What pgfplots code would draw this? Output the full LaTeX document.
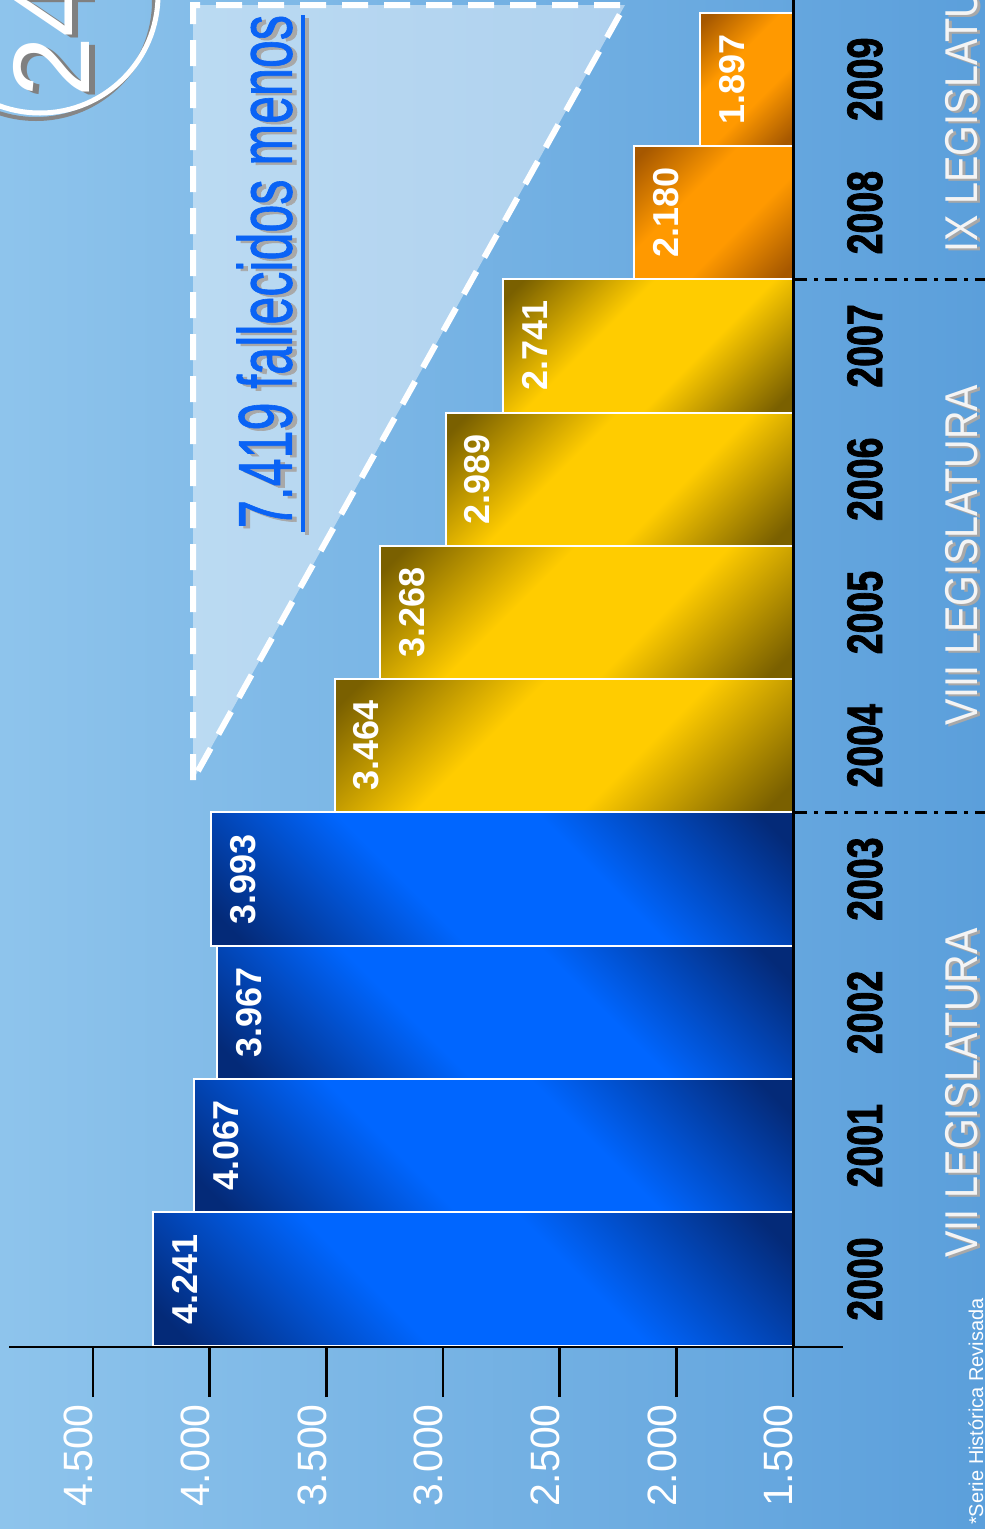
\documentclass[border=0pt]{standalone}
\usepackage{pgfplots}
\pgfplotsset{compat=1.18}
\usepackage{fontspec}
\usepackage{graphicx}
\setmainfont{Liberation Sans}
\newfontfamily\yearfont{Liberation Sans Bold}[FakeStretch=0.75, FakeBold=1.5]
\newfontfamily\legfont{Liberation Sans}[FakeStretch=0.86]
\newfontfamily\titlefont{Liberation Sans}[FakeBold=1.2]
\definecolor{bgL}{HTML}{8EC4EC}
\definecolor{bgR}{HTML}{5B9FDB}
\definecolor{blueD}{HTML}{042A78}
\definecolor{blueB}{HTML}{0066FF}
\definecolor{yelD}{HTML}{7A6000}
\definecolor{yelB}{HTML}{FFCC00}
\definecolor{orD}{HTML}{A65800}
\definecolor{orB}{HTML}{FF9900}
\definecolor{titleblue}{HTML}{0A63F5}
\definecolor{shadowgray}{HTML}{A8A8A8}
\definecolor{legwhite}{HTML}{F4F4F4}
\pgfdeclareverticalshading{blueshade}{100bp}{color(0bp)=(blueD); color(18bp)=(blueD); color(40bp)=(blueB); color(60bp)=(blueB); color(82bp)=(blueD); color(100bp)=(blueD)}
\pgfdeclareverticalshading{yelshade}{100bp}{color(0bp)=(yelD); color(18bp)=(yelD); color(40bp)=(yelB); color(60bp)=(yelB); color(82bp)=(yelD); color(100bp)=(yelD)}
\pgfdeclareverticalshading{orshade}{100bp}{color(0bp)=(orD); color(18bp)=(orD); color(40bp)=(orB); color(60bp)=(orB); color(82bp)=(orD); color(100bp)=(orD)}
\pgfplotsset{
  barbase/.style={bar width=1, bar shift=0pt, draw=white, line width=2pt},
  bluebar/.style={barbase, shading=blueshade, shading angle=-45},
  yelbar/.style={barbase, shading=yelshade, shading angle=45},
  orbar/.style={barbase, shading=orshade, shading angle=45},
}
\begin{document}
\begin{tikzpicture}
\useasboundingbox (0pt,0pt) rectangle (985pt,-1529pt);
\clip (0pt,0pt) rectangle (985pt,-1529pt);
\begin{scope}[x=1pt,y=-1pt]
  \shade[left color=bgL, right color=bgR] (0,0) rectangle (985,1529);
  % triangle
  \fill[white, opacity=0.45] (193,5) -- (625,5) -- (193,780) -- cycle;
  \draw[white, line width=6pt, dash pattern=on 26pt off 16pt] (193,780) -- (193,5) -- (625,5) -- cycle;
  % circle 24
  \draw[shadowgray!80!black, line width=4pt] (36,1) circle (118);
  \draw[white, line width=5pt] (40,-5) circle (118);
  \node[rotate=90, inner sep=0pt, text=gray, font=\fontsize{109}{109}\selectfont] at (57,40) {24};
  \node[rotate=90, inner sep=0pt, text=white, font=\fontsize{109}{109}\selectfont] at (51,37) {24};
  % title
  \node[rotate=90, inner sep=0pt] at (269,274) {\resizebox{513pt}{55pt}{\titlefont\color{shadowgray}7.419 fallecidos menos}};
  \node[rotate=90, inner sep=0pt] at (264.5,271.5) {\resizebox{513pt}{55pt}{\titlefont\color{titleblue}7.419 fallecidos menos}};
  \draw[shadowgray, line width=4pt] (307,18) -- (307,535);
  \draw[titleblue, line width=4pt] (303,15) -- (303,532);
\end{scope}
\begin{axis}[
  at={(0pt,-1347pt)}, anchor=south west,
  scale only axis, width=793pt, height=1347pt,
  x dir=reverse,
  x coord trafo/.code={\pgfmathparse{#1-1500}},
  x coord inv trafo/.code={\pgfmathparse{#1+1500}},
  xmin=1500, xmax=4898.6, ymin=-0.51, ymax=9.595,
  axis line style={draw=none},
  xbar,
  tick pos=left,
  tick align=outside,
  major tick length=50pt,
  xtick={1500,2000,2500,3000,3500,4000,4500},
  xtick style={black, line width=2.5pt},
  ytick style={draw=none},
  xticklabel style={yshift=-7pt, rotate=90, anchor=base east, inner sep=0pt, text=white, font=\fontsize{41}{41}\selectfont},
  /pgf/number format/1000 sep={.},
  /pgf/number format/assume math mode=true,
  ytick={0,1,2,3,4,5,6,7,8,9},
  yticklabels={2000,2001,2002,2003,2004,2005,2006,2007,2008,2009},
  yticklabel pos=right,
  yticklabel style={xshift=4pt, rotate=90, anchor=north, inner sep=0pt, text=black, font=\yearfont\fontsize{50}{50}\selectfont},
  point meta=explicit symbolic,
  nodes near coords={\pgfplotspointmeta},
  every node near coord/.append style={rotate=90, anchor=north, inner xsep=0pt, inner ysep=18pt, text=white, font=\bfseries\fontsize{36}{36}\selectfont},
]
\addplot[bluebar] coordinates {(4241,0) [4.241]};
\addplot[bluebar] coordinates {(4067,1) [4.067]};
\addplot[bluebar] coordinates {(3967,2) [3.967]};
\addplot[bluebar] coordinates {(3993,3) [3.993]};
\addplot[yelbar] coordinates {(3464,4) [3.464]};
\addplot[yelbar] coordinates {(3268,5) [3.268]};
\addplot[yelbar] coordinates {(2989,6) [2.989]};
\addplot[yelbar] coordinates {(2741,7) [2.741]};
\addplot[orbar] coordinates {(2180,8) [2.180]};
\addplot[orbar] coordinates {(1897,9) [1.897]};
\end{axis}
\begin{scope}[x=1pt,y=-1pt]
  \draw[black, line width=2.5pt] (9,1347) -- (843,1347);
  \draw[black, line width=3pt] (793,0) -- (793,1347);
  \draw[black, line width=3pt, dash pattern=on 12pt off 7pt on 4pt off 7pt] (795,812.5) -- (985,812.5);
  \draw[black, line width=3pt, dash pattern=on 12pt off 7pt on 4pt off 7pt] (795,279.2) -- (985,279.2);
  \foreach \t/\y in {VII LEGISLATURA/1093, VIII LEGISLATURA/555} {
    \node[rotate=90, inner sep=0pt, text=shadowgray, font=\legfont\fontsize{46}{46}\selectfont] at (964.5,\y+2) {\t};
    \node[rotate=90, inner sep=0pt, text=legwhite, font=\legfont\fontsize{46}{46}\selectfont] at (961.5,\y) {\t};
  }
  \node[rotate=90, anchor=west, inner sep=0pt, text=shadowgray, font=\legfont\fontsize{46}{46}\selectfont] at (964.5,255) {IX LEGISLATURA};
  \node[rotate=90, anchor=west, inner sep=0pt, text=legwhite, font=\legfont\fontsize{46}{46}\selectfont] at (961.5,253) {IX LEGISLATURA};
  \node[rotate=90, anchor=base east, inner sep=0pt, text=white, font=\fontsize{20}{20}\selectfont] at (983,1298) {*Serie Histórica Revisada};
\end{scope}
\end{tikzpicture}
\end{document}
